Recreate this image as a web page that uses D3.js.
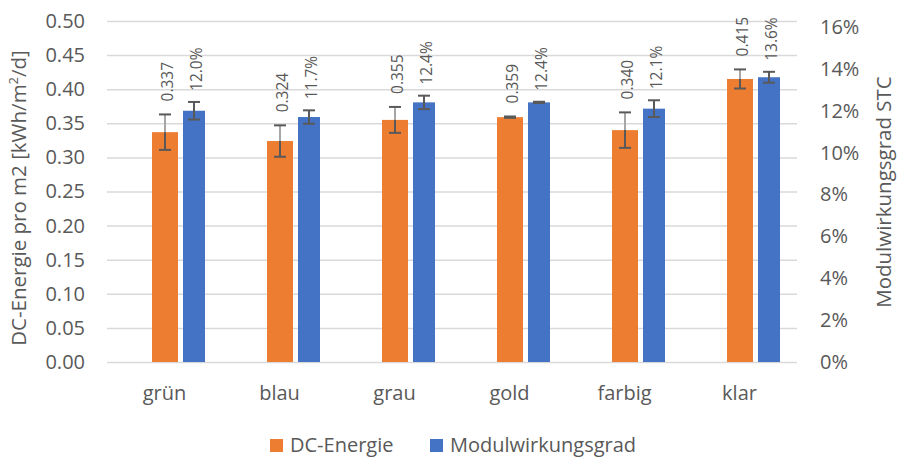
<!DOCTYPE html>
<html><head><meta charset="utf-8">
<script src="https://cdn.jsdelivr.net/npm/d3@7"></script>
<style>
body{margin:0;background:#fff;}
svg text{font-family:"Open Sans",sans-serif;fill:#595959;}
</style></head>
<body><svg id="c" width="898" height="458"></svg>
<script>
const categories = ["grün","blau","grau","gold","farbig","klar"];
const energy = [0.337,0.324,0.355,0.359,0.340,0.415];
const energyErr = [0.026,0.023,0.019,0.001,0.026,0.014];
const efficiency = [12.0,11.7,12.4,12.4,12.1,13.6];
const efficiencyErr = [0.42,0.32,0.32,0.03,0.40,0.26];
const leftTicks = [0,0.05,0.10,0.15,0.20,0.25,0.30,0.35,0.40,0.45,0.50];
const rightTicks = [0,2,4,6,8,10,12,14,16];
const seriesNames = ["DC-Energie","Modulwirkungsgrad"];
const colors = ["#ED7D31","#4472C4"];

const svg = d3.select("#c");
const L=107,R=797,B=362;
const x = d3.scaleBand().domain(categories).range([L,R]);
const yL = d3.scaleLinear().domain([0,0.5]).range([B,21]);
const yR = d3.scaleLinear().domain([0,16]).range([B,27]);

// grid + left axis
const gl = svg.append("g").attr("transform",`translate(${L},0)`)
  .call(d3.axisLeft(yL).tickValues(leftTicks).tickFormat(d3.format(".2f")).tickSize(-(R-L)).tickPadding(22));
gl.select(".domain").remove();
gl.selectAll("line").attr("stroke","#d9d9d9").attr("stroke-width",1.5);
gl.selectAll("text").attr("font-size",20).style("font-family","Open Sans").attr("fill","#595959");

// right axis
const gr = svg.append("g").attr("transform",`translate(${R},0)`)
  .call(d3.axisRight(yR).tickValues(rightTicks).tickFormat(d=>d+"%").tickSize(0).tickPadding(23));
gr.select(".domain").remove();
gr.selectAll("text").attr("font-size",20).attr("fill","#595959");

// bottom axis
const gb = svg.append("g").attr("transform",`translate(0,${B})`)
  .call(d3.axisBottom(x).tickSize(0).tickPadding(24));
gb.select(".domain").remove();
gb.selectAll("text").attr("font-size",20).attr("fill","#595959");

const cx = d => x(d) + x.bandwidth()/2;
const oX = d => cx(d) - 12.5, oW = 26;
const bX = d => cx(d) + 18.5, bW = 22;

// bars
svg.append("g").selectAll("rect").data(categories).join("rect")
  .attr("x",d=>oX(d)).attr("width",oW)
  .attr("y",(d,i)=>yL(energy[i])).attr("height",(d,i)=>B-yL(energy[i]))
  .attr("fill",colors[0]);
svg.append("g").selectAll("rect").data(categories).join("rect")
  .attr("x",d=>bX(d)).attr("width",bW)
  .attr("y",(d,i)=>yR(efficiency[i])).attr("height",(d,i)=>B-yR(efficiency[i]))
  .attr("fill",colors[1]);

// error bars
const eg = svg.append("g");
categories.forEach((c,i)=>{
  let mx = oX(c)+oW/2, t = yL(energy[i]+energyErr[i]), b = yL(energy[i]-energyErr[i]), top = yL(energy[i]);
  if (b - t > 3) {
    eg.append("line").attr("x1",mx).attr("x2",mx).attr("y1",t).attr("y2",top).attr("stroke","#a6a6a6").attr("stroke-width",2);
    eg.append("line").attr("x1",mx).attr("x2",mx).attr("y1",top).attr("y2",b).attr("stroke","#595959").attr("stroke-width",2);
  }
  [t,b].forEach(yy=>eg.append("line").attr("x1",mx-6).attr("x2",mx+6).attr("y1",yy).attr("y2",yy).attr("stroke","#595959").attr("stroke-width",2));
  mx = bX(c)+bW/2; t = yR(efficiency[i]+efficiencyErr[i]); b = yR(efficiency[i]-efficiencyErr[i]);
  if (b - t > 3) eg.append("line").attr("x1",mx).attr("x2",mx).attr("y1",t).attr("y2",b).attr("stroke","#595959").attr("stroke-width",2);
  [t,b].forEach(yy=>eg.append("line").attr("x1",mx-6).attr("x2",mx+6).attr("y1",yy).attr("y2",yy).attr("stroke","#595959").attr("stroke-width",2));
});

// data labels
const lg = svg.append("g");
categories.forEach((c,i)=>{
  let px = oX(c)+oW/2+3, py = yL(energy[i]+energyErr[i]) - 13;
  lg.append("text").attr("transform",`translate(${px},${py}) rotate(-90)`)
    .attr("dy","0.35em").attr("font-size",15.5).text(d3.format(".3f")(energy[i]));
  px = bX(c)+bW/2+3; py = yR(efficiency[i]+efficiencyErr[i]) - 11;
  lg.append("text").attr("transform",`translate(${px},${py}) rotate(-90)`)
    .attr("dy","0.35em").attr("font-size",15.5).text(d3.format(".1f")(efficiency[i])+"%");
});

// axis titles
const lt = svg.append("text").attr("transform","translate(26,198) rotate(-90)")
  .attr("text-anchor","middle").attr("font-size",20.5);
lt.append("tspan").text("DC-Energie pro m2 [kWh/m");
lt.append("tspan").attr("font-size",13).attr("dy",-8).text("2");
lt.append("tspan").attr("dy",8).text("/d]");
svg.append("text").attr("transform","translate(891,192) rotate(-90)")
  .attr("text-anchor","middle").attr("font-size",20.5).text("Modulwirkungsgrad STC");

// legend
const legX = [270,430];
seriesNames.forEach((n,i)=>{
  svg.append("rect").attr("x",legX[i]).attr("y",439).attr("width",13).attr("height",13).attr("fill",colors[i]);
  svg.append("text").attr("x",legX[i]+20).attr("y",452).attr("font-size",20).text(n);
});
</script></body></html>
